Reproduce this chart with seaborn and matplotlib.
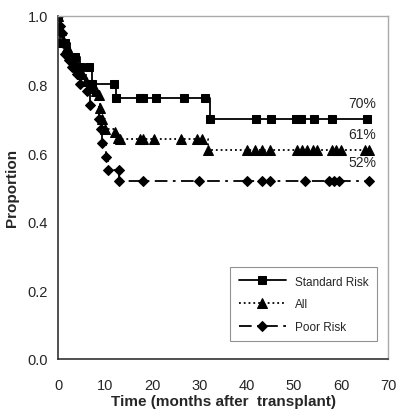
import pandas as pd
import matplotlib.pyplot as plt
import seaborn as sns

# Kaplan-Meier style curves (time in months, proportion)
std_time = [0, 0.4, 1.5, 2.5, 3.6, 4.7, 6.5, 7.2, 11.9, 12.2, 17.3, 18.0, 20.8,
            26.6, 31.2, 32.3, 42.0, 45.2, 50.5, 51.5, 54.2, 58.1, 65.5]
std_prop = [1.0, 0.92, 0.92, 0.88, 0.88, 0.85, 0.85, 0.80, 0.80, 0.76, 0.76, 0.76, 0.76,
            0.76, 0.76, 0.70, 0.70, 0.70, 0.70, 0.70, 0.70, 0.70, 0.70]

all_time = [0, 0.5, 1.0, 1.8, 2.6, 3.4, 4.2, 5.0, 6.0, 7.0, 8.0, 8.6, 8.8, 9.2, 9.9,
            12.0, 12.7, 13.2, 17.3, 18.0, 20.3, 26.0, 29.4, 30.6, 31.7, 40.0,
            41.8, 43.2, 45.0, 50.7, 51.8, 52.8, 54.0, 55.0, 58.0, 59.0, 60.0, 65.0, 66.0]
all_prop = [1.0, 0.96, 0.93, 0.91, 0.89, 0.87, 0.85, 0.83, 0.81, 0.79, 0.78, 0.77, 0.73, 0.70, 0.67,
            0.66, 0.645, 0.64, 0.64, 0.64, 0.64, 0.64, 0.64, 0.64, 0.61, 0.61,
            0.61, 0.61, 0.61, 0.61, 0.61, 0.61, 0.61, 0.61, 0.61, 0.61, 0.61, 0.61, 0.61]

poor_time = [0, 0.4, 0.8, 1.1, 1.5, 2.2, 3.0, 4.0, 4.7, 6.1, 6.8, 8.6, 9.1, 9.3, 10.2,
             10.5, 12.8, 13.0, 17.9, 29.9, 40.0, 43.2, 45.0, 52.4, 57.5, 58.5, 59.5, 66.0]
poor_prop = [1.0, 0.97, 0.95, 0.92, 0.89, 0.87, 0.85, 0.83, 0.80, 0.78, 0.74, 0.70, 0.67, 0.63, 0.59,
             0.55, 0.55, 0.52, 0.52, 0.52, 0.52, 0.52, 0.52, 0.52, 0.52, 0.52, 0.52, 0.52]

x_ticks = [0, 10, 20, 30, 40, 50, 60, 70]
y_ticks = [0.0, 0.2, 0.4, 0.6, 0.8, 1.0]
end_labels = ["70%", "61%", "52%"]
end_label_y = [0.745, 0.655, 0.575]

sns.set_style("white")
plt.rcParams["font.family"] = ["Liberation Sans Narrow", "Liberation Sans", "DejaVu Sans"]

fig = plt.figure(figsize=(3.96, 4.10), dpi=100)
ax = fig.add_axes([0.147, 0.122, 0.833, 0.837])

series = [
    ("Standard Risk", std_time, std_prop, "-", "s", 6.0),
    ("All", all_time, all_prop, ":", "^", 6.5),
    ("Poor Risk", poor_time, poor_prop, (0, (7, 3, 1.5, 3)), "D", 5.0),
]
for name, t, p, ls, mk, ms in series:
    df = pd.DataFrame({"time": t, "prop": p})
    sns.lineplot(data=df, x="time", y="prop", estimator=None, sort=False, ax=ax,
                 drawstyle="steps-post", color="black", linewidth=1.3, linestyle=ls,
                 marker=mk, markersize=ms, markeredgecolor="black", markerfacecolor="black",
                 label=name)

for txt, yy in zip(end_labels, end_label_y):
    ax.text(67.5, yy, txt, ha="right", va="center", fontsize=10)

ax.set_xlim(0, 70)
ax.set_ylim(0, 1.0)
ax.set_xticks(x_ticks)
ax.set_yticks(y_ticks)
ax.set_yticklabels([f"{v:.1f}" for v in y_ticks])
ax.tick_params(axis="both", direction="out", length=4, width=0.8, labelsize=10.5, color="gray")
ax.tick_params(axis="x", pad=10)
ax.set_xlabel("Time (months after  transplant)", fontsize=11, fontweight="bold", labelpad=1)
ax.set_ylabel("Proportion", fontsize=11, fontweight="bold", labelpad=6)

for side in ["left", "bottom"]:
    ax.spines[side].set_color("#333333")
    ax.spines[side].set_linewidth(1.2)
for side in ["top", "right"]:
    ax.spines[side].set_color("#aaaaaa")
    ax.spines[side].set_linewidth(1.0)

leg = ax.legend(loc="lower right", bbox_to_anchor=(0.985, 0.035), fontsize=8.5,
                frameon=True, fancybox=False, edgecolor="#777777", handlelength=4.0,
                borderpad=0.7, labelspacing=0.9)
leg.get_frame().set_linewidth(0.8)

plt.savefig("out.png", dpi=100)
